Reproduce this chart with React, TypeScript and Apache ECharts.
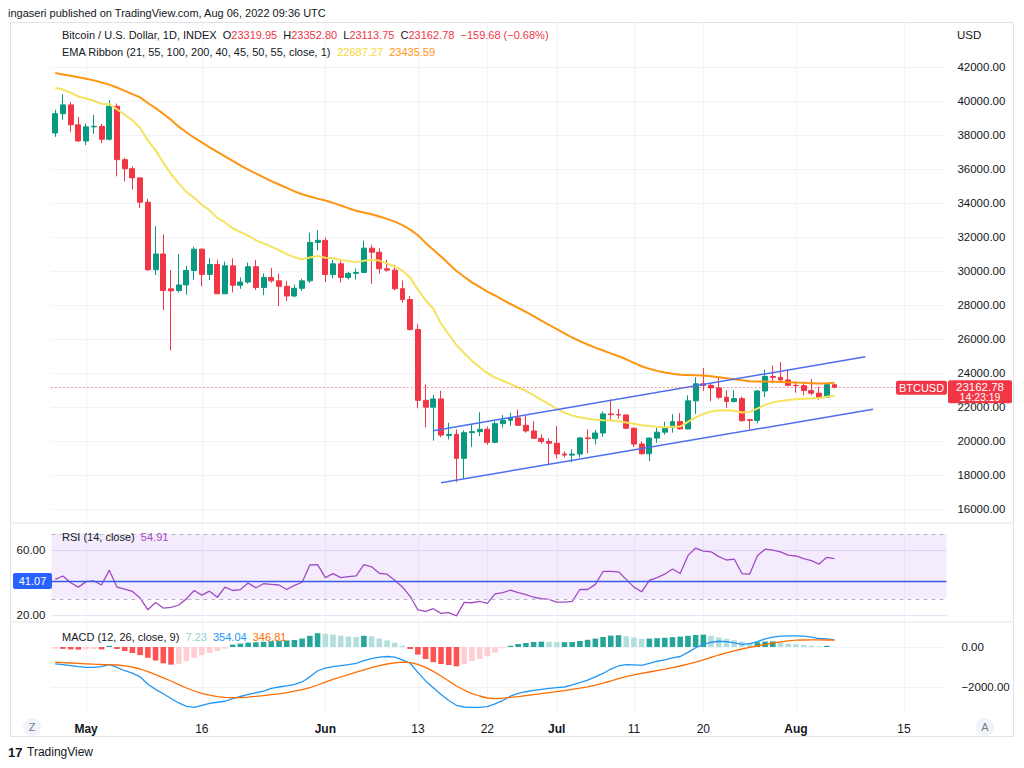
import React, { useEffect, useRef } from 'react';
import * as echarts from 'echarts';

// ---------- DATA ----------
const START_UTC = Date.UTC(2022, 3, 27); // Apr 27, 2022
const CATEGORY_COUNT = 116;

const opens = [38110,39240,39760,38590,37640,38470,38500,37740,39680,36540,36010,35470,34040,30070,31000,28950,28850,29180,30030,31280,29800,30380,28660,30300,29160,29350,30250,29030,29620,29420,29100,28530,28980,29420,31680,31800,29790,30420,29620,29860,29910,31340,31100,30130,30050,28960,28320,26560,22400,22000,22480,20330,20400,18990,20500,20560,20700,19930,21030,21230,21370,20930,20600,20170,19980,19880,19250,19180,19240,20190,20150,20480,21600,21560,21540,20760,19830,19260,20180,20530,20810,21150,20720,22370,23370,23280,23130,22580,22330,22500,21260,21220,22950,23800,23750,23600,23280,23260,22970,22820,22580,23319.95];
const highs = [39470,40380,39920,39050,38660,39170,38640,40050,39840,36660,36140,35510,34240,32630,32150,30050,30990,30300,31420,31320,30760,30660,30550,30740,29620,30500,30650,29850,30180,29850,29400,29200,29540,32250,32390,31960,30660,30660,29950,30150,31780,31540,31320,30650,30360,29440,28540,26870,23320,22720,22960,21080,20690,20640,21000,21700,20860,21170,21530,21670,21850,21500,21180,20400,20150,20900,19400,19520,20250,20700,20650,21750,22450,21900,21580,20800,20000,20200,20800,21150,21580,21650,22700,23750,24300,23400,23750,22980,22980,22620,21310,23000,24200,24450,24650,24200,23480,23450,23650,23200,23450,23352.80];
const lows = [37880,38880,38180,37590,37400,38050,37510,37670,35560,35270,34790,33700,30000,29760,27700,25330,28720,28600,29480,29100,29470,28640,28650,28740,28950,29250,28880,28580,29320,27940,28240,28450,28830,29300,31200,29350,29580,29320,29500,29500,29880,29240,29850,29960,28860,28120,26500,21930,20810,20030,20230,20100,17590,17810,19650,20300,19780,19880,20800,20900,20920,20500,20160,19850,18640,18980,19050,18760,19050,19300,19800,20250,21200,21320,20700,19650,19200,18830,19900,20380,20500,20680,20700,21600,22950,22350,22470,21950,22270,21150,20700,21050,22600,23400,23500,23230,22850,22700,22700,22430,22550,23113.75];
const closes = [39240,39760,38590,37640,38470,38500,37740,39680,36540,36010,35470,34040,30070,31000,28850,28830,29180,30030,31280,29800,30380,28660,30300,29160,29350,30250,29030,29620,29420,29100,28530,28980,29420,31680,31800,29790,30420,29620,29860,29910,31340,31100,30130,30050,28960,28320,26560,22400,22000,22480,20360,20400,18990,20500,20560,20700,19930,21030,21230,21370,20930,20600,20170,19980,19880,19250,19180,19240,20190,20150,20480,21600,21560,21540,20760,19830,19260,20180,20530,20810,21150,20720,22370,23370,23280,23130,22580,22330,22500,21200,21220,22950,23800,23750,23600,23280,23260,22970,22820,22580,23320,23162.78];

const ema21 = [40750,40660,40480,40250,40130,40000,39820,39800,39500,39180,38850,38400,37660,37100,36370,35700,35130,34650,34300,33890,33560,33120,32850,32510,32280,32080,31810,31620,31430,31230,30990,30810,30690,30790,30880,30780,30750,30650,30580,30520,30600,30650,30610,30450,30250,30020,29610,28900,28280,27780,26900,26280,25650,25170,24720,24340,24000,23740,23550,23350,23150,22960,22700,22430,22170,21900,21680,21500,21400,21320,21260,21230,21210,21170,21100,21020,20930,20890,20850,20820,20840,20860,21130,21400,21600,21740,21800,21810,21790,21690,21720,21910,22130,22280,22360,22420,22460,22490,22510,22530,22610,22687.27];
const ema55 = [41630,41550,41470,41380,41300,41200,41080,40950,40780,40580,40390,40200,39870,39570,39240,38880,38480,38150,37830,37560,37260,37000,36740,36470,36200,35950,35730,35500,35280,35080,34880,34680,34510,34380,34250,34140,34000,33850,33690,33540,33440,33330,33200,33060,32900,32690,32430,32100,31650,31250,30850,30420,30000,29660,29330,29060,28790,28560,28300,28060,27830,27590,27340,27090,26840,26580,26330,26090,25880,25680,25500,25330,25160,24990,24810,24600,24400,24250,24130,24030,23960,23900,23890,23880,23860,23820,23760,23700,23640,23580,23520,23500,23500,23490,23480,23460,23440,23430,23410,23390,23400,23435.59];

const rsi = [42.1,44.2,40.0,37.3,40.7,41.1,38.6,47.8,37.3,36.0,34.6,30.5,23.2,27.8,24.3,24.7,26.2,30.0,35.2,32.3,34.8,31.0,37.3,35.2,35.8,39.8,36.9,39.4,39.0,38.6,35.8,38.4,40.3,51.0,51.2,43.2,45.7,43.2,43.8,44.2,51.2,49.9,45.9,45.3,41.5,37.3,31.6,23.2,22.2,23.9,21.0,21.5,19.5,27.8,27.6,28.4,27.2,33.1,33.9,35.4,33.9,32.7,31.0,30.1,29.7,28.0,28.0,28.4,35.8,35.8,39.0,47.0,47.0,46.8,42.1,37.3,34.4,41.5,43.2,45.3,48.5,45.7,56.8,61.5,59.6,59.2,56.2,54.1,54.7,45.7,45.3,56.8,60.8,60.2,59.2,57.1,56.6,54.9,53.7,51.6,55.8,54.91];

const macd = [-848,-881,-932,-983,-1017,-1017,-983,-881,-1017,-1187,-1305,-1492,-1865,-2119,-2339,-2576,-2797,-2966,-3017,-2915,-2814,-2763,-2712,-2576,-2475,-2373,-2288,-2204,-2068,-2000,-1949,-1865,-1746,-1492,-1187,-1051,-983,-932,-881,-814,-678,-576,-509,-475,-509,-644,-814,-1271,-1695,-2034,-2373,-2678,-2915,-3000,-3017,-3017,-2983,-2848,-2678,-2458,-2322,-2237,-2170,-2119,-2068,-2034,-2000,-1898,-1780,-1661,-1492,-1322,-1102,-949,-881,-898,-915,-814,-712,-644,-542,-475,-271,-34,136,237,288,271,203,136,170,271,407,492,542,559,559,542,492,424,407,354.04];
const signal = [-763,-780,-800,-820,-840,-860,-875,-880,-900,-940,-1010,-1100,-1230,-1380,-1540,-1700,-1880,-2050,-2200,-2320,-2410,-2480,-2520,-2530,-2530,-2510,-2470,-2430,-2380,-2340,-2280,-2210,-2130,-2030,-1900,-1760,-1620,-1500,-1380,-1260,-1140,-1030,-930,-850,-790,-760,-780,-870,-1020,-1220,-1450,-1700,-1950,-2150,-2330,-2450,-2550,-2580,-2560,-2520,-2480,-2430,-2380,-2330,-2280,-2230,-2180,-2120,-2060,-1990,-1910,-1810,-1700,-1580,-1480,-1390,-1320,-1250,-1180,-1110,-1030,-950,-860,-760,-640,-520,-400,-290,-190,-100,-20,50,130,200,260,310,340,350,355,352,350,346.81];
const histogram = [-85,-95,-120,-135,-110,-95,-120,60,-100,-200,-305,-407,-542,-678,-814,-881,-847,-712,-542,-407,-305,-203,-85,119,170,220,237,260,290,310,330,350,420,560,690,660,620,570,520,500,560,540,430,330,220,60,-100,-380,-600,-760,-850,-900,-966,-860,-700,-600,-450,-280,-60,60,150,200,250,270,260,240,240,250,300,360,420,500,570,590,540,480,400,420,440,460,490,520,560,600,620,560,480,407,339,271,203,237,271,280,237,170,136,100,68,34,60,7.23];

const channelUpper = [['2022-06-15', 20615], ['2022-08-10', 24963]];
const channelLower = [['2022-06-16', 17559], ['2022-08-11', 21872]];
const lastPrice = 23162.78;
const rsiLevel = 41.07;

const priceTicks = [16000,18000,20000,22000,24000,26000,28000,30000,32000,34000,36000,38000,40000,42000];
const rsiTicks = [20, 60];
const macdTicks = [-2000, 0];
const timeTickDates = ['2022-05-01','2022-05-16','2022-06-01','2022-06-13','2022-06-22','2022-07-01','2022-07-11','2022-07-20','2022-08-01','2022-08-15'];
const timeTickTexts = ['May','16','Jun','13','22','Jul','11','20','Aug','15'];
const monthTickTexts = ['May','Jun','Jul','Aug'];

// ---------- helpers ----------
function buildDates(): string[] {
  const out: string[] = [];
  for (let i = 0; i < CATEGORY_COUNT; i++) {
    const d = new Date(START_UTC + i * 86400000);
    out.push(`${d.getUTCFullYear()}-${String(d.getUTCMonth() + 1).padStart(2, '0')}-${String(d.getUTCDate()).padStart(2, '0')}`);
  }
  return out;
}

const FONT = 'Liberation Sans, Arial, sans-serif';
const TXT = '#131722';
const UP = '#089981';
const DOWN = '#F23645';
const GRIDC = '#F0F3FA';
const LF = 11; // legend font size

export default function App() {
  const ref = useRef<HTMLDivElement>(null);
  useEffect(() => {
    if (!ref.current) return;
    const chart = echarts.init(ref.current, undefined, { renderer: 'svg' });
    const dates = buildDates();
    const isTick = (v: string) => timeTickDates.indexOf(v) >= 0;

    const candleData = opens.map((o, i) => [o, closes[i], lows[i], highs[i]]);
    const histData = histogram.map((v, i) => {
      const prev = i > 0 ? histogram[i - 1] : v;
      let c;
      if (v >= 0) c = v >= prev ? '#26A69A' : '#B2DFDB';
      else c = v < prev ? '#FF5252' : '#FFCDD2';
      return { value: v, itemStyle: { color: c } };
    });

    const gridLeft = 51.4;
    const gridWidth = 895;
    const mkX = (gi: number, showLabel: boolean) => ({
      type: 'category', gridIndex: gi, data: dates, boundaryGap: true,
      axisLine: { show: false }, axisTick: { show: false, alignWithLabel: true, interval: (i: number, v: string) => isTick(v) },
      axisLabel: {
        show: showLabel, interval: (i: number, v: string) => isTick(v), margin: 9,
        fontFamily: FONT, fontSize: 12, color: TXT,
        formatter: (v: string) => {
          const t = timeTickTexts[timeTickDates.indexOf(v)] || '';
          return monthTickTexts.indexOf(t) >= 0 ? `{m|${t}}` : t;
        },
        rich: { m: { fontWeight: 'bold', fontSize: 12, fontFamily: FONT, color: TXT } },
      },
      splitLine: { show: true, alignWithLabel: true, interval: (i: number, v: string) => isTick(v), lineStyle: { color: GRIDC, width: 1 } },
    });

    const option: any = {
      animation: false,
      backgroundColor: '#ffffff',
      grid: [
        { left: gridLeft, width: gridWidth, top: 22, height: 500 },
        { left: gridLeft, width: gridWidth, top: 524, height: 97 },
        { left: gridLeft, width: gridWidth, top: 623, height: 91 },
      ],
      xAxis: [mkX(0, false), mkX(1, false), mkX(2, true)],
      yAxis: [
        {
          gridIndex: 0, type: 'value', position: 'right', min: 15250, max: 44630, scale: true,
          axisLine: { show: false }, axisTick: { show: false, customValues: priceTicks },
          axisLabel: { customValues: priceTicks, formatter: (v: number) => v.toFixed(2), color: TXT, fontSize: 11.5, fontFamily: FONT, margin: 11 },
          splitLine: { show: true, lineStyle: { color: GRIDC } },
        },
        {
          gridIndex: 1, type: 'value', position: 'left', min: 16.28, max: 76.43,
          axisLine: { show: false }, axisTick: { show: false, customValues: rsiTicks },
          axisLabel: { customValues: rsiTicks, formatter: (v: number) => v.toFixed(2), color: TXT, fontSize: 11.5, fontFamily: FONT, margin: 6 },
          splitLine: { show: true, lineStyle: { color: '#E9E3F5' } },
        },
        {
          gridIndex: 2, type: 'value', position: 'right', min: -3350, max: 1200,
          axisLine: { show: false }, axisTick: { show: false, customValues: macdTicks },
          axisLabel: { customValues: macdTicks, formatter: (v: number) => (v < 0 ? '\u2212' + Math.abs(v).toFixed(2) : v.toFixed(2)), color: TXT, fontSize: 11.5, fontFamily: FONT, margin: 15 },
          splitLine: { show: true, lineStyle: { color: GRIDC } },
        },
      ],
      series: [
        {
          type: 'candlestick', xAxisIndex: 0, yAxisIndex: 0, data: candleData, barWidth: '70%',
          itemStyle: { color: UP, color0: DOWN, borderColor: UP, borderColor0: DOWN, borderWidth: 1 },
          markLine: {
            silent: true, symbol: ['none', 'none'], label: { show: false },
            lineStyle: { color: '#4C6EF0', width: 1.5, type: 'solid' },
            data: [
              [{ coord: channelUpper[0] }, { coord: channelUpper[1] }],
              [{ coord: channelLower[0] }, { coord: channelLower[1] }],
              { yAxis: lastPrice, lineStyle: { type: [1, 3], color: DOWN, width: 1 } },
            ],
          },
          z: 3,
        },
        { type: 'line', xAxisIndex: 0, yAxisIndex: 0, data: ema21, symbol: 'none', lineStyle: { color: '#F5E35E', width: 2 }, z: 4 },
        { type: 'line', xAxisIndex: 0, yAxisIndex: 0, data: ema55, symbol: 'none', lineStyle: { color: '#FF9410', width: 2 }, z: 4 },
        {
          type: 'line', xAxisIndex: 1, yAxisIndex: 1, data: rsi, symbol: 'none', lineStyle: { color: '#A04BC4', width: 1.3 },
          markArea: { silent: true, itemStyle: { color: 'rgba(156, 80, 230, 0.11)' }, data: [[{ yAxis: 70 }, { yAxis: 30 }]] },
          markLine: {
            silent: true, symbol: ['none', 'none'], label: { show: false },
            data: [
              { yAxis: 70, lineStyle: { type: [4, 4], color: '#B9B3C6', width: 1 } },
              { yAxis: 30, lineStyle: { type: [4, 4], color: '#B9B3C6', width: 1 } },
              { yAxis: rsiLevel, lineStyle: { type: 'solid', color: '#3559E8', width: 1.3 } },
            ],
          },
        },
        { type: 'bar', xAxisIndex: 2, yAxisIndex: 2, data: histData, barWidth: '72%' },
        { type: 'line', xAxisIndex: 2, yAxisIndex: 2, data: macd, symbol: 'none', lineStyle: { color: '#2196F3', width: 1.3 }, z: 4 },
        { type: 'line', xAxisIndex: 2, yAxisIndex: 2, data: signal, symbol: 'none', lineStyle: { color: '#FF6D00', width: 1.3 }, z: 4 },
      ],
    };
    chart.setOption(option);

    const yPrice = chart.convertToPixel({ yAxisIndex: 0 }, lastPrice) as number;
    const yRsi = chart.convertToPixel({ yAxisIndex: 1 }, rsiLevel) as number;
    const sty = (o: any) => ({ fontFamily: FONT, fontSize: LF, fill: TXT, verticalAlign: 'middle', ...o });
    const rs = (fill: string) => ({ fill, fontSize: LF, fontFamily: FONT });

    const graphic: any[] = [
      // frame
      { type: 'rect', shape: { x: 10.5, y: 22.5, width: 1003, height: 714 }, style: { fill: 'none', stroke: '#E0E3EB', lineWidth: 1 }, z: 0, silent: true },
      { type: 'line', shape: { x1: 10, y1: 523, x2: 1013, y2: 523 }, style: { stroke: '#E0E3EB', lineWidth: 1 }, silent: true },
      { type: 'line', shape: { x1: 10, y1: 622, x2: 1013, y2: 622 }, style: { stroke: '#E0E3EB', lineWidth: 1 }, silent: true },
      { type: 'text', x: 8, y: 13, style: sty({ text: 'ingaseri published on TradingView.com, Aug 06, 2022 09:36 UTC' }) },
      {
        type: 'text', x: 62, y: 35, z: 10,
        style: sty({
          text: '{d|Bitcoin / U.S. Dollar, 1D, INDEX}  {d|O}{r|23319.95}  {d|H}{r|23352.80}  {d|L}{r|23113.75}  {d|C}{r|23162.78}  {r|\u2212159.68 (\u22120.68%)}',
          rich: { d: rs(TXT), r: rs(DOWN) },
        }),
      },
      {
        type: 'text', x: 62, y: 52, z: 10,
        style: sty({
          text: '{d|EMA Ribbon (21, 55, 100, 200, 40, 45, 50, 55, close, 1)}  {y|22687.27}  {o|23435.59}',
          rich: { d: rs(TXT), y: rs('#F2D935'), o: rs('#FF9410') },
        }),
      },
      { type: 'text', x: 957, y: 35, style: sty({ text: 'USD', fontSize: 11.5 }) },
      {
        type: 'text', x: 62, y: 537, z: 10,
        style: sty({ text: '{d|RSI (14, close)}  {p|54.91}', rich: { d: rs(TXT), p: rs('#A04BC4') } }),
      },
      {
        type: 'text', x: 62, y: 637, z: 10,
        style: sty({
          text: '{d|MACD (12, 26, close, 9)}  {h|7.23}  {b|354.04}  {o|346.81}',
          rich: { d: rs(TXT), h: rs('#8FD3C8'), b: rs('#2196F3'), o: rs('#FF6D00') },
        }),
      },
      // bottom buttons
      { type: 'circle', shape: { cx: 32, cy: 727, r: 9 }, style: { fill: '#F0F3FA' } },
      { type: 'text', x: 32, y: 727, style: sty({ text: 'Z', align: 'center', fill: '#787B86', fontSize: 11 }) },
      { type: 'circle', shape: { cx: 985, cy: 727, r: 9 }, style: { fill: '#F0F3FA' } },
      { type: 'text', x: 985, y: 727, style: sty({ text: 'A', align: 'center', fill: '#787B86', fontSize: 11 }) },
      // TradingView logo
      { type: 'text', x: 8, y: 752, style: sty({ text: '17', fontWeight: 'bold', fontSize: 13, fill: '#131722' }) },
      { type: 'text', x: 27, y: 752, style: sty({ text: 'TradingView', fontSize: 12 }) },
      // price tags
      { type: 'rect', shape: { x: 896, y: yPrice - 6.5, width: 51, height: 14, r: 2 }, style: { fill: DOWN }, z: 20 },
      { type: 'text', x: 921.5, y: yPrice + 0.5, z: 21, style: sty({ text: 'BTCUSD', align: 'center', fill: '#ffffff', fontSize: 11 }) },
      { type: 'rect', shape: { x: 948, y: yPrice - 7, width: 64, height: 23, r: 2 }, style: { fill: DOWN }, z: 20 },
      { type: 'text', x: 980, y: yPrice - 0.5, z: 21, style: sty({ text: '23162.78', align: 'center', fill: '#ffffff', fontSize: 11.5 }) },
      { type: 'text', x: 980, y: yPrice + 10, z: 21, style: sty({ text: '14:23:19', align: 'center', fill: '#ffffff', fontSize: 10.5 }) },
      { type: 'rect', shape: { x: 13, y: yRsi - 8, width: 39, height: 16, r: 2 }, style: { fill: '#2962FF' }, z: 20 },
      { type: 'text', x: 32.5, y: yRsi, z: 21, style: sty({ text: '41.07', align: 'center', fill: '#ffffff', fontSize: 11 }) },
    ];
    chart.setOption({ graphic });

    return () => chart.dispose();
  }, []);

  return <div ref={ref} style={{ position: 'fixed', left: 0, top: 0, width: 1024, height: 768, background: '#fff' }} />;
}
